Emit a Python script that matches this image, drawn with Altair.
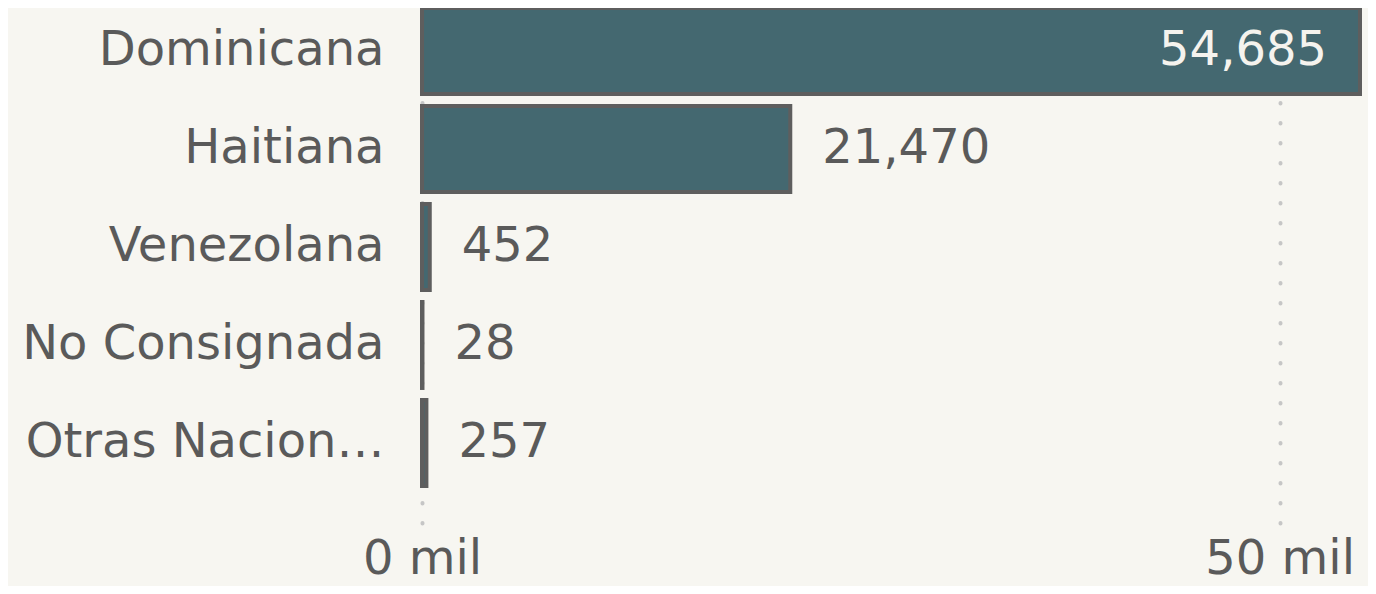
import altair as alt
import pandas as pd

categories = ["Dominicana", "Haitiana", "Venezolana", "No Consignada", "Otras Nacionalidades"]
values = [54685, 21470, 452, 28, 257]
x_ticks = [0, 50000]

df = pd.DataFrame({"cat": categories, "val": values})

FONT = "DejaVu Sans"
TXT = "#5a5a5a"
BG = "#f7f6f1"

y_enc = alt.Y(
    "cat:N",
    sort=categories,
    title=None,
    scale=alt.Scale(paddingInner=0.1224, paddingOuter=0.189, align=0),
    axis=alt.Axis(
        domain=False, ticks=False, labelFontSize=48, labelFont=FONT,
        labelColor=TXT, labelPadding=38, labelLimit=370, grid=False,
    ),
)
x_enc = alt.X(
    "val:Q",
    title=None,
    scale=alt.Scale(domain=[0, 54685], nice=False, zero=True),
    axis=alt.Axis(
        values=x_ticks, labelExpr="datum.value / 1000 + ' mil'",
        domain=False, ticks=False, labelFontSize=48, labelFont=FONT,
        labelColor=TXT, labelPadding=12, grid=True, gridColor="#c6c6c6",
        gridWidth=4, gridCap="round", gridDash=[0.5, 19.5], labelFlush=False,
    ),
)

bars = alt.Chart(df).mark_bar(
    color="#446870", stroke="#5e5e5e", strokeWidth=4
).encode(x=x_enc, y=y_enc)

inside = alt.Chart(df).transform_filter("datum.val > 40000").mark_text(
    align="right", baseline="middle", dx=-33, fontSize=48, font=FONT, color="#f5f3ee"
).encode(x="val:Q", y=alt.Y("cat:N", sort=categories), text=alt.Text("val:Q", format=","))

outside = alt.Chart(df).transform_filter("datum.val <= 40000").mark_text(
    align="left", baseline="middle", dx=32, fontSize=48, font=FONT, color=TXT
).encode(x="val:Q", y=alt.Y("cat:N", sort=categories), text=alt.Text("val:Q", format=","))

chart = alt.layer(bars, inside, outside).properties(
    width=938, height=515,
    background=BG,
    padding={"left": 414, "top": 0, "right": 8, "bottom": 63},
    autosize=alt.AutoSizeParams(type="none"),
).configure_view(stroke=None)

chart.save("out.html", embed_options={"renderer": "svg", "actions": False})
